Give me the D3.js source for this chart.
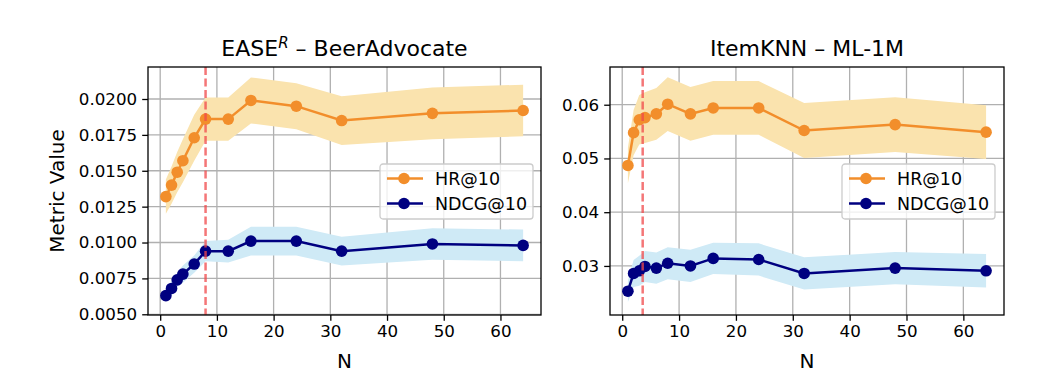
<!DOCTYPE html>
<html>
<head>
    <title>Metric vs N</title>
    <script src="https://d3js.org/d3.v7.min.js"></script>
    <style>
        body { margin: 0; background: #fff; }
        text { font-family: "DejaVu Sans", sans-serif; fill: #000; }
        .grid line { stroke: #b0b0b0; stroke-width: 1.3; }
        .axis-label { font-size: 20px; }
        .title { font-size: 22px; }
        .legend-text { font-size: 17.5px; }
    </style>
</head>
<body>
    <svg width="1040" height="382"></svg>

    <script>
        // values
        const nValues = [1, 2, 3, 4, 6, 8, 12, 16, 24, 32, 48, 64];

        const beerHR = [0.0132, 0.0140, 0.0149, 0.0157, 0.0173, 0.0186, 0.0186, 0.0199, 0.0195, 0.0185, 0.0190, 0.0192];
        const beerHRStd = [0.0012, 0.0013, 0.0014, 0.0015, 0.0016, 0.0015, 0.0015, 0.0016, 0.0016, 0.0017, 0.0018, 0.0018];
        const beerNDCG = [0.0063, 0.0068, 0.0074, 0.0078, 0.0085, 0.0094, 0.0094, 0.0101, 0.0101, 0.0094, 0.0099, 0.0098];
        const beerNDCGStd = [0.0004, 0.0005, 0.0005, 0.0006, 0.0006, 0.0007, 0.0008, 0.0010, 0.0010, 0.0010, 0.0011, 0.0011];

        const mlHR = [0.0487, 0.0548, 0.0572, 0.0576, 0.0583, 0.0601, 0.0583, 0.0594, 0.0594, 0.0552, 0.0563, 0.0549];
        const mlHRStd = [0.0033, 0.0042, 0.0046, 0.0047, 0.0048, 0.0050, 0.0050, 0.0050, 0.0050, 0.0051, 0.0051, 0.0050];
        const mlNDCG = [0.0253, 0.0286, 0.0291, 0.0299, 0.0296, 0.0305, 0.0300, 0.0314, 0.0312, 0.0286, 0.0296, 0.0291];
        const mlNDCGStd = [0.0020, 0.0025, 0.0028, 0.0029, 0.0029, 0.0030, 0.0030, 0.0029, 0.0030, 0.0030, 0.0030, 0.0031];

        const xTicks = [0, 10, 20, 30, 40, 50, 60];
        const beerYTicks = [0.0050, 0.0075, 0.0100, 0.0125, 0.0150, 0.0175, 0.0200];
        const mlYTicks = [0.03, 0.04, 0.05, 0.06];

        const seriesNames = ["HR@10", "NDCG@10"];
        const lineColors = ["#f28e2b", "#000080"];
        const bandColors = ["#fae3ae", "#cfeaf6"];

        const svg = d3.select("svg");
        const plotTop = 67, plotBottom = 315;

        function drawPanel(opts) {
            const g = svg.append("g");
            const x = d3.scaleLinear().domain([-2.15, 67.15]).range([opts.left, opts.right]);
            const y = d3.scaleLinear().domain(opts.yDomain).range([plotBottom, plotTop]);

            // grid
            const grid = g.append("g").attr("class", "grid");
            grid.selectAll(".gx").data(xTicks).enter().append("line")
                .attr("x1", d => x(d)).attr("x2", d => x(d))
                .attr("y1", plotTop).attr("y2", plotBottom);
            grid.selectAll(".gy").data(opts.yTicks).enter().append("line")
                .attr("x1", opts.left).attr("x2", opts.right)
                .attr("y1", d => y(d)).attr("y2", d => y(d));

            // bands then lines
            const series = [
                {mean: opts.hr, std: opts.hrStd},
                {mean: opts.ndcg, std: opts.ndcgStd}
            ];
            const area = d3.area()
                .x((d, i) => x(nValues[i]))
                .y0(d => y(d.lo))
                .y1(d => y(d.hi));
            const line = d3.line()
                .x((d, i) => x(nValues[i]))
                .y(d => y(d));

            series.forEach((s, k) => {
                const band = s.mean.map((m, i) => ({lo: m - s.std[i], hi: m + s.std[i]}));
                g.append("path")
                    .attr("d", area(band))
                    .attr("fill", bandColors[k]);
            });
            series.forEach((s, k) => {
                g.append("path")
                    .attr("d", line(s.mean))
                    .attr("fill", "none")
                    .attr("stroke", lineColors[k])
                    .attr("stroke-width", 2.5);
                g.selectAll(".pt" + k).data(s.mean).enter().append("circle")
                    .attr("cx", (d, i) => x(nValues[i]))
                    .attr("cy", d => y(d))
                    .attr("r", 5.8)
                    .attr("fill", lineColors[k]);
            });

            // vertical marker
            g.append("line")
                .attr("x1", x(opts.vline)).attr("x2", x(opts.vline))
                .attr("y1", plotTop).attr("y2", plotBottom)
                .attr("stroke", "#f0484a")
                .attr("stroke-opacity", 0.75)
                .attr("stroke-width", 2.5)
                .attr("stroke-dasharray", "8,3.5");

            // frame
            g.append("rect")
                .attr("x", opts.left).attr("y", plotTop)
                .attr("width", opts.right - opts.left).attr("height", plotBottom - plotTop)
                .attr("fill", "none").attr("stroke", "#000").attr("stroke-width", 1.3);

            // x axis
            const xAxis = g.append("g")
                .attr("transform", `translate(0,${plotBottom})`)
                .call(d3.axisBottom(x).tickValues(xTicks).tickSize(5.8).tickPadding(4));
            xAxis.select(".domain").remove();
            xAxis.selectAll("text").style("font-size", "16.7px").style("font-family", "DejaVu Sans");
            xAxis.selectAll(".tick line").attr("stroke", "#000").attr("stroke-width", 1.3);

            // y axis
            const yAxis = g.append("g")
                .attr("transform", `translate(${opts.left},0)`)
                .call(d3.axisLeft(y).tickValues(opts.yTicks).tickFormat(d3.format(opts.yFormat)).tickSize(5.8).tickPadding(5));
            yAxis.select(".domain").remove();
            yAxis.selectAll("text").style("font-size", "16.7px").style("font-family", "DejaVu Sans");
            yAxis.selectAll(".tick line").attr("stroke", "#000").attr("stroke-width", 1.3);

            // x label
            g.append("text").attr("class", "axis-label")
                .attr("x", (opts.left + opts.right) / 2).attr("y", 368)
                .attr("text-anchor", "middle").text("N");

            // title
            const t = g.append("text").attr("class", "title")
                .attr("x", (opts.left + opts.right) / 2).attr("y", 56)
                .attr("text-anchor", "middle");
            opts.title(t);

            // legend
            const lg = g.append("g").attr("transform", `translate(${opts.legendX},164)`);
            lg.append("rect")
                .attr("width", 153).attr("height", 55).attr("rx", 3)
                .attr("fill", "#fff").attr("fill-opacity", 0.8)
                .attr("stroke", "#cccccc").attr("stroke-width", 1.3);
            seriesNames.forEach((name, k) => {
                const ry = 14.5 + k * 25;
                lg.append("line")
                    .attr("x1", 7).attr("x2", 43).attr("y1", ry).attr("y2", ry)
                    .attr("stroke", lineColors[k]).attr("stroke-width", 2.5);
                lg.append("circle").attr("cx", 24).attr("cy", ry).attr("r", 5.8)
                    .attr("fill", lineColors[k]);
                lg.append("text").attr("class", "legend-text")
                    .attr("x", 55).attr("y", ry + 6.3).text(name);
            });
        }

        drawPanel({
            left: 148, right: 541,
            yDomain: [0.00495, 0.02223],
            yTicks: beerYTicks, yFormat: ".4f",
            hr: beerHR, hrStd: beerHRStd, ndcg: beerNDCG, ndcgStd: beerNDCGStd,
            vline: 8, legendX: 380,
            title: t => {
                t.append("tspan").text("EASE");
                t.append("tspan").attr("font-style", "italic").attr("font-size", "15px")
                    .attr("dy", -8).text("R");
                t.append("tspan").attr("dy", 8).text(" \u2013 BeerAdvocate");
            }
        });

        drawPanel({
            left: 610, right: 1004,
            yDomain: [0.02087, 0.06702],
            yTicks: mlYTicks, yFormat: ".2f",
            hr: mlHR, hrStd: mlHRStd, ndcg: mlNDCG, ndcgStd: mlNDCGStd,
            vline: 3.6, legendX: 842,
            title: t => t.text("ItemKNN \u2013 ML-1M")
        });

        // shared y label
        svg.append("text").attr("class", "axis-label")
            .attr("transform", "translate(64,191) rotate(-90)")
            .attr("text-anchor", "middle").text("Metric Value");
    </script>
</body>
</html>
